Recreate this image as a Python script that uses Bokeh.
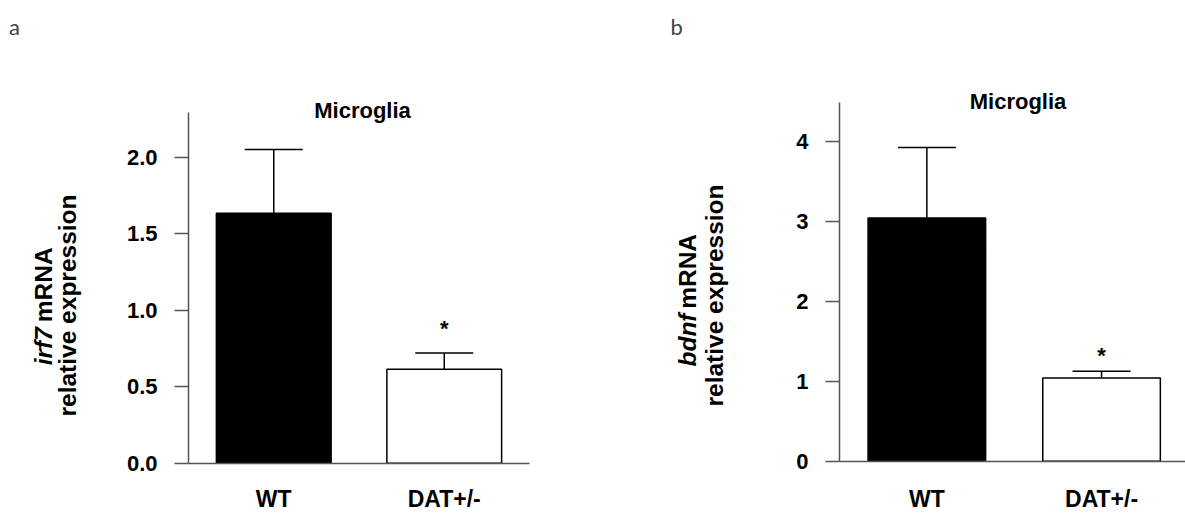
import math
from bokeh.plotting import figure
from bokeh.layouts import row
from bokeh.models import (ColumnDataSource, Range1d, FixedTicker, Whisker,
                          TeeHead, Label)
from bokeh.core.properties import value
from bokeh.embed import file_html
from bokeh.resources import INLINE

# ---------------- data ----------------
categories = ["WT", "DAT+/-"]
bar_colors = ["black", "white"]
significance = ["", "*"]

irf7_mean = [1.634, 0.614]
irf7_sem = [0.416, 0.106]
irf7_ticks = [0.0, 0.5, 1.0, 1.5, 2.0]
irf7_tick_labels = ["0.0", "0.5", "1.0", "1.5", "2.0"]

bdnf_mean = [3.04, 1.04]
bdnf_sem = [0.88, 0.085]
bdnf_ticks = [0, 1, 2, 3, 4]
bdnf_tick_labels = ["0", "1", "2", "3", "4"]

title_text = "Microglia"
ylabel_line2 = "relative expression"

FONT = "Liberation Sans"
LETTER_FONT = "Lato"
AXIS_COLOR = "#555555"
H = 514


def panel(means, sems, ticks, tick_labels, gene, letter, width,
          x_px, x0_px, y_px, y0_px, y_axis_top, x_axis_end, x_standoff,
          letter_x, l1_x, l2_x, l2_yc, split_lo, split_hi, star_off,
          title_x, title_y):
    """x_px/y_px: pixels per data unit; x0_px/y0_px: canvas pixel of data 0
    (x from left, y from top)."""
    xs = [i + 0.5 for i in range(len(categories))]
    uppers = [m + s for m, s in zip(means, sems)]
    src = ColumnDataSource(dict(x=xs, top=means, lower=means, upper=uppers,
                                color=bar_colors, sig=significance))
    x_range = Range1d(-x0_px / x_px, (width - x0_px) / x_px)
    y_range = Range1d(-(H - y0_px) / y_px, y0_px / y_px)
    p = figure(width=width, height=H, x_range=x_range, y_range=y_range,
               output_backend="svg", toolbar_location=None, tools="",
               min_border_left=0, min_border_right=0, min_border_top=0,
               min_border_bottom=0)
    p.outline_line_color = None
    p.xgrid.visible = False
    p.ygrid.visible = False
    p.background_fill_color = "white"
    p.border_fill_color = "white"

    p.vbar(x="x", top="top", bottom=0, width=0.673, fill_color="color",
           line_color="black", line_width=1.5, source=src)
    p.add_layout(Whisker(base="x", lower="lower", upper="upper", source=src,
                         dimension="height", line_color="black", line_width=1.5,
                         upper_head=TeeHead(size=58, line_color="black",
                                            line_width=1.5),
                         lower_head=None, level="overlay"))
    p.text(x="x", y="upper", text="sig", y_offset=star_off,
           text_font=value(FONT), text_font_style="bold",
           text_font_size="22px", text_align="center",
           text_baseline="alphabetic", text_color="black", source=src)

    # axes drawn at data zero, limited to the plotted span
    for ax in p.yaxis:
        ax.fixed_location = 0
        ax.bounds = (0, y_axis_top)
        ax.ticker = FixedTicker(ticks=ticks)
        ax.major_label_overrides = {t: l for t, l in zip(ticks, tick_labels)}
        ax.minor_tick_line_color = None
        ax.major_tick_in = 0
        ax.major_tick_out = 14
        ax.major_label_standoff = 17
        ax.axis_line_color = AXIS_COLOR
        ax.axis_line_width = 1.5
        ax.major_tick_line_color = AXIS_COLOR
        ax.major_tick_line_width = 1.5
        ax.major_label_text_font = FONT
        ax.major_label_text_font_style = "bold"
        ax.major_label_text_font_size = "22px"
        ax.major_label_text_color = "black"
    for ax in p.xaxis:
        ax.fixed_location = 0
        ax.bounds = (0, x_axis_end)
        ax.ticker = FixedTicker(ticks=xs)
        ax.major_label_overrides = {x: c for x, c in zip(xs, categories)}
        ax.minor_tick_line_color = None
        ax.major_tick_line_color = None
        ax.major_tick_in = 0
        ax.major_tick_out = 0
        ax.major_label_standoff = x_standoff
        ax.axis_line_color = AXIS_COLOR
        ax.axis_line_width = 1.5
        ax.major_label_text_font = FONT
        ax.major_label_text_font_style = "bold"
        ax.major_label_text_font_size = "23px"
        ax.major_label_text_color = "black"

    def lab(**kw):
        base = dict(x_units="screen", y_units="screen", text_font=FONT,
                    text_font_style="bold", text_color="black")
        base.update(kw)
        p.add_layout(Label(**base))

    # panel title
    lab(x=title_x, y=title_y, text=title_text, text_font_size="22px",
        text_align="center", text_baseline="alphabetic")
    # y axis label (two lines, gene name italic)
    rot = math.pi / 2
    lab(x=l1_x, y=split_lo, angle=rot, text=gene,
        text_font_style="bold italic", text_font_size="24.5px",
        text_align="right", text_baseline="middle")
    lab(x=l1_x, y=split_hi, angle=rot, text="mRNA", text_font_size="24.5px",
        text_align="left", text_baseline="middle")
    lab(x=l2_x, y=l2_yc, angle=rot, text=ylabel_line2,
        text_font_size="24.5px", text_align="center", text_baseline="middle")
    # panel letter
    lab(x=letter_x, y=H - 26, text=letter, text_font=LETTER_FONT,
        text_font_style="normal", text_font_size="22px", text_align="left",
        text_baseline="alphabetic", text_color="#444444")
    return p


left = panel(irf7_mean, irf7_sem, irf7_ticks, irf7_tick_labels, "irf7", "a",
             width=592, x_px=170.5, x0_px=188, y_px=153, y0_px=462.7,
             y_axis_top=2.29, x_axis_end=2.0, x_standoff=23,
             letter_x=8.5, l1_x=43, l2_x=67, l2_yc=H - 305,
             split_lo=H - 326.7, split_hi=H - 321.7, star_off=-24.5,
             title_x=362, title_y=H - 110.3)

right = panel(bdnf_mean, bdnf_sem, bdnf_ticks, bdnf_tick_labels, "bdnf", "b",
              width=593, x_px=174.7, x0_px=247, y_px=80, y0_px=460.7,
              y_axis_top=4.49, x_axis_end=1.98, x_standoff=25,
              letter_x=78, l1_x=94.5, l2_x=122, l2_yc=H - 295,
              split_lo=H - 313, split_hi=H - 308.3, star_off=-16.2,
              title_x=425.5, title_y=H - 101.3)

layout = row(left, right)
open("out.html", "w").write(file_html(layout, INLINE))
